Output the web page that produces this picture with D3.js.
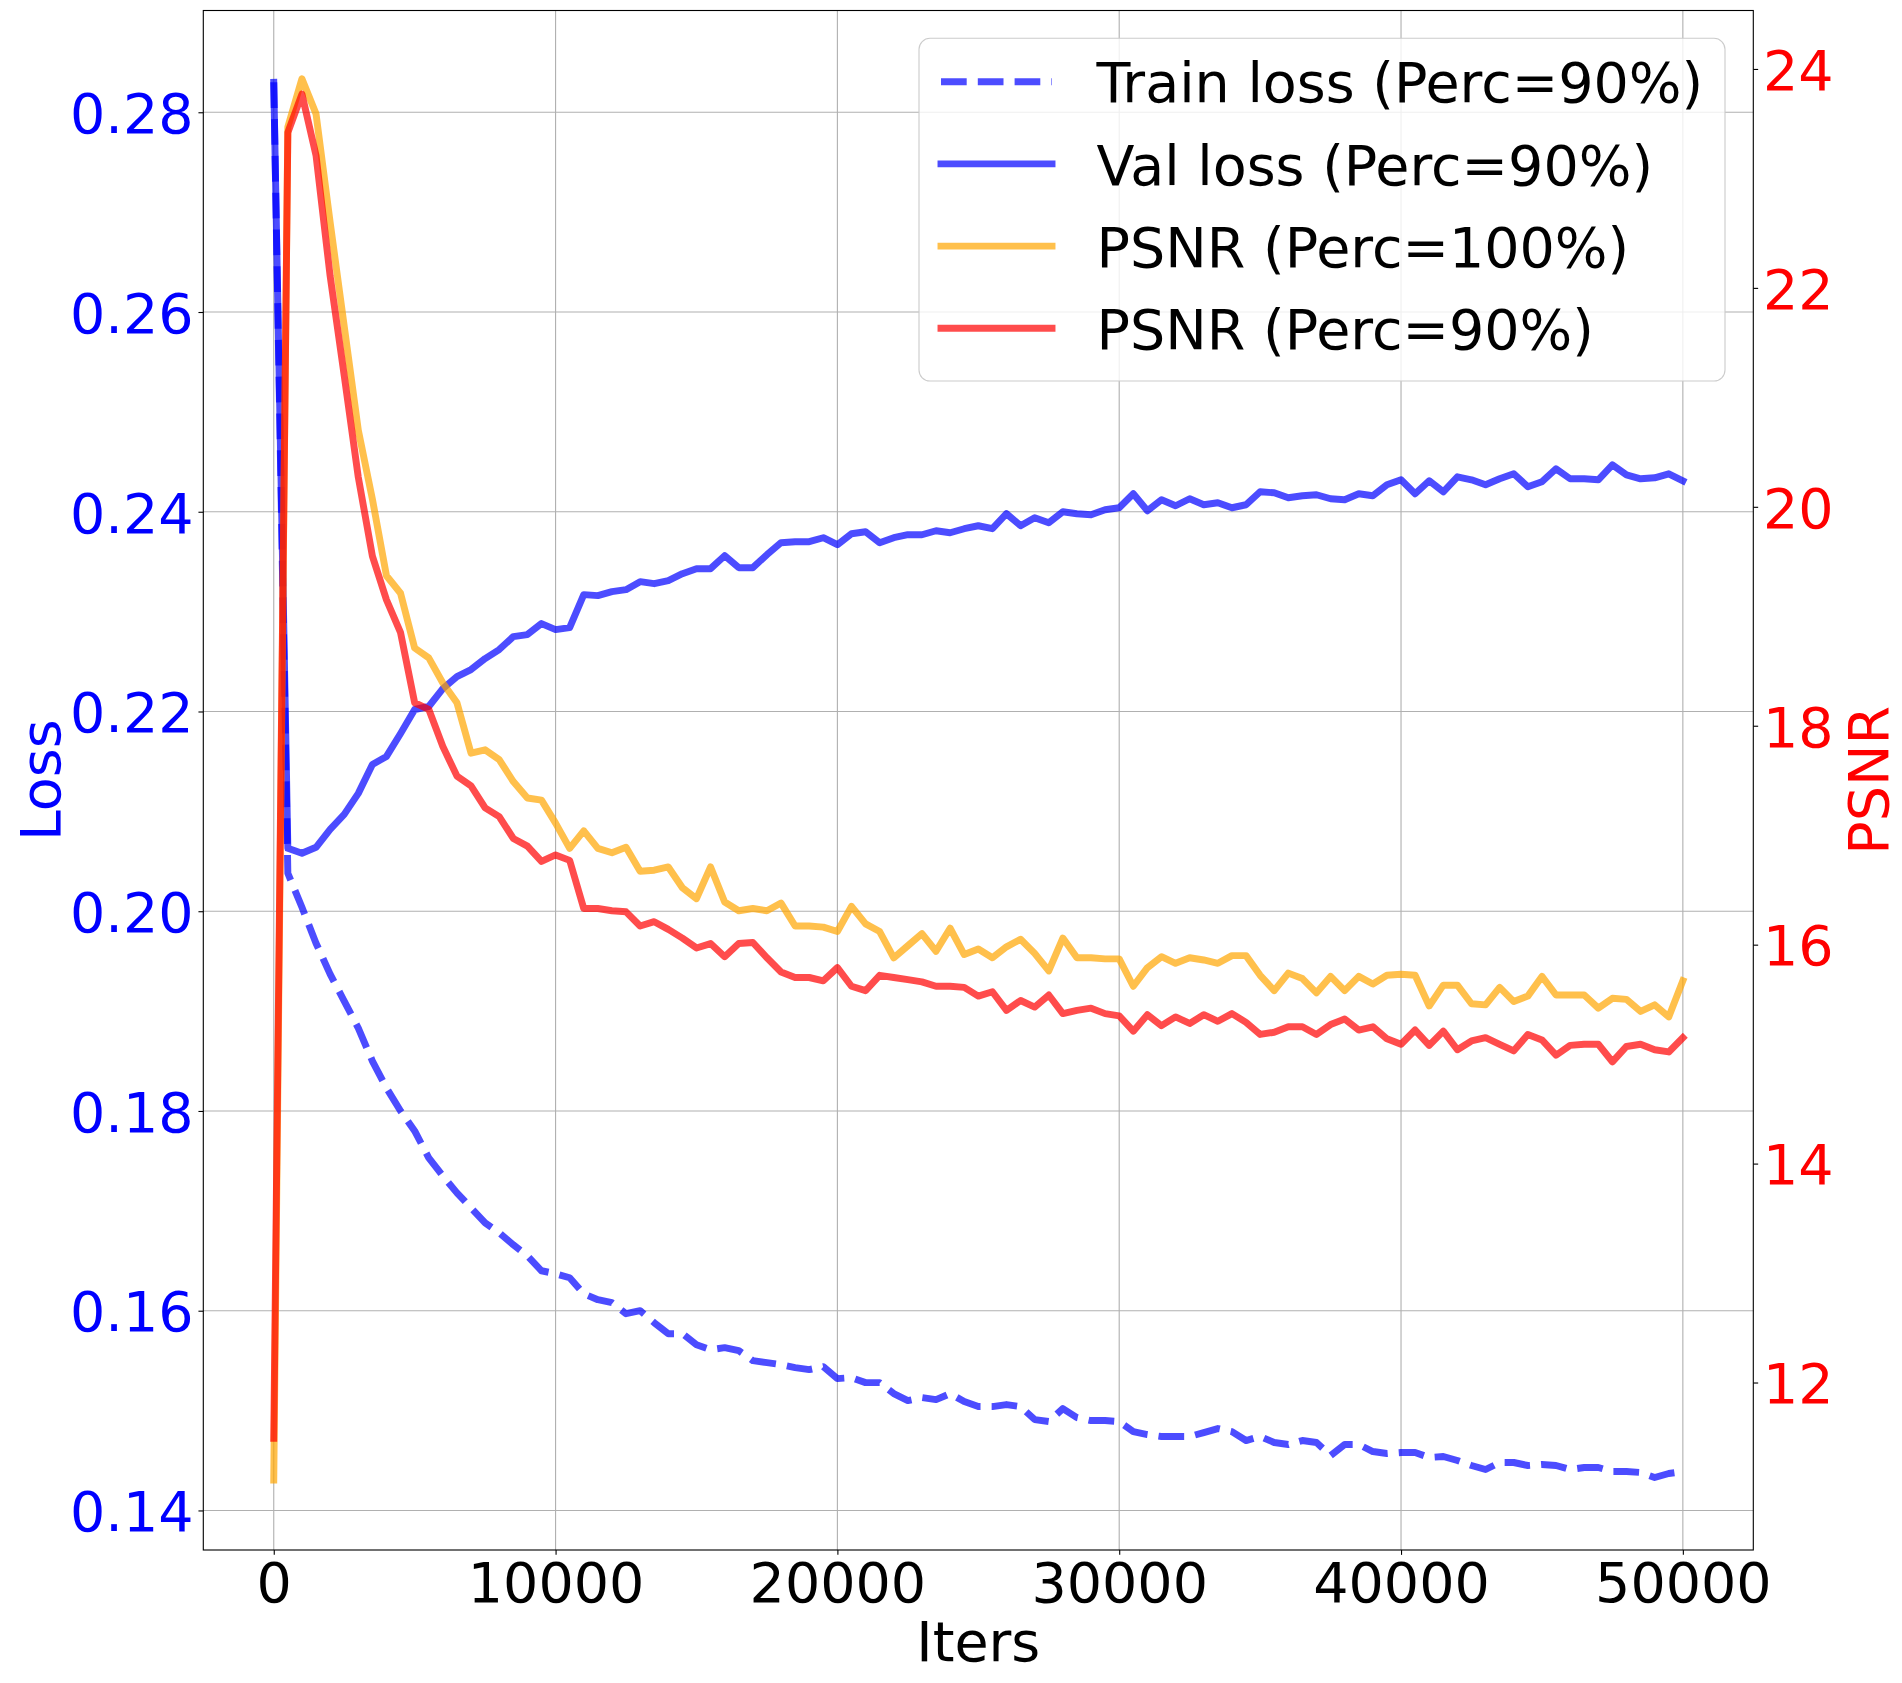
<!DOCTYPE html>
<html>
<head>
<meta charset="utf-8">
<script src="https://cdn.jsdelivr.net/npm/d3@7"></script>
<style>
  body { margin: 0; background: #fff; }
  svg { display: block; font-family: "DejaVu Sans", sans-serif; }
</style>
</head>
<body>
<svg id="chart"></svg>
<script>
// values, one point every 500 iters
const iters = [
  0, 500, 1000, 1500, 2000, 2500, 3000, 3500, 4000, 4500,
  5000, 5500, 6000, 6500, 7000, 7500, 8000, 8500, 9000, 9500,
  10000, 10500, 11000, 11500, 12000, 12500, 13000, 13500, 14000, 14500,
  15000, 15500, 16000, 16500, 17000, 17500, 18000, 18500, 19000, 19500,
  20000, 20500, 21000, 21500, 22000, 22500, 23000, 23500, 24000, 24500,
  25000, 25500, 26000, 26500, 27000, 27500, 28000, 28500, 29000, 29500,
  30000, 30500, 31000, 31500, 32000, 32500, 33000, 33500, 34000, 34500,
  35000, 35500, 36000, 36500, 37000, 37500, 38000, 38500, 39000, 39500,
  40000, 40500, 41000, 41500, 42000, 42500, 43000, 43500, 44000, 44500,
  45000, 45500, 46000, 46500, 47000, 47500, 48000, 48500, 49000, 49500,
  50000
];

const trainLoss = [
  0.2830, 0.2038, 0.2004, 0.1968, 0.1937, 0.1910, 0.1883, 0.1850, 0.1823, 0.1800,
  0.1780, 0.1753, 0.1735, 0.1718, 0.1703, 0.1688, 0.1678, 0.1666, 0.1655, 0.1640,
  0.1637, 0.1633, 0.1617, 0.1611, 0.1608, 0.1597, 0.1600, 0.1588, 0.1577, 0.1577,
  0.1566, 0.1561, 0.1563, 0.1560, 0.1550, 0.1548, 0.1546, 0.1543, 0.1541, 0.1544,
  0.1532, 0.1533, 0.1528, 0.1528, 0.1517, 0.1510, 0.1513, 0.1511, 0.1517, 0.1509,
  0.1504, 0.1504, 0.1506, 0.1504, 0.1491, 0.1489, 0.1502, 0.1493, 0.1490, 0.1490,
  0.1489, 0.1479, 0.1476, 0.1474, 0.1474, 0.1474, 0.1478, 0.1482, 0.1479, 0.1470,
  0.1474, 0.1468, 0.1466, 0.1470, 0.1468, 0.1455, 0.1466, 0.1466, 0.1459, 0.1457,
  0.1458, 0.1458, 0.1453, 0.1454, 0.1450, 0.1445, 0.1441, 0.1448, 0.1448, 0.1445,
  0.1446, 0.1445, 0.1441, 0.1443, 0.1443, 0.1439, 0.1439, 0.1438, 0.1433, 0.1437,
  0.1439
];

const valLoss = [
  0.2830, 0.2063, 0.2058, 0.2064, 0.2082, 0.2097, 0.2118, 0.2147, 0.2155, 0.2178,
  0.2202, 0.2205, 0.2223, 0.2235, 0.2242, 0.2253, 0.2262, 0.2275, 0.2277, 0.2288,
  0.2282, 0.2284, 0.2317, 0.2316, 0.2320, 0.2322, 0.2330, 0.2328, 0.2331, 0.2338,
  0.2343, 0.2343, 0.2356, 0.2344, 0.2344, 0.2357, 0.2369, 0.2370, 0.2370, 0.2374,
  0.2367, 0.2378, 0.2380, 0.2369, 0.2374, 0.2377, 0.2377, 0.2381, 0.2379, 0.2383,
  0.2386, 0.2383, 0.2398, 0.2386, 0.2394, 0.2389, 0.2400, 0.2398, 0.2397, 0.2402,
  0.2404, 0.2418, 0.2401, 0.2412, 0.2406, 0.2413, 0.2407, 0.2409, 0.2404, 0.2407,
  0.2420, 0.2419, 0.2414, 0.2416, 0.2417, 0.2413, 0.2412, 0.2418, 0.2416, 0.2427,
  0.2432, 0.2418, 0.2431, 0.2420, 0.2435, 0.2432, 0.2427, 0.2433, 0.2438, 0.2425,
  0.2430, 0.2443, 0.2433, 0.2433, 0.2432, 0.2447, 0.2437, 0.2433, 0.2434, 0.2438,
  0.2431
];

const psnr100 = [
  11.11, 23.47, 23.91, 23.59, 22.60, 21.65, 20.70, 20.07, 19.37, 19.21,
  18.71, 18.62, 18.39, 18.21, 17.75, 17.78, 17.69, 17.49, 17.34, 17.32,
  17.11, 16.88, 17.04, 16.88, 16.84, 16.89, 16.67, 16.68, 16.71, 16.52,
  16.42, 16.71, 16.39, 16.31, 16.33, 16.31, 16.38, 16.17, 16.17, 16.16,
  16.12, 16.35, 16.19, 16.12, 15.88, 15.99, 16.10, 15.94, 16.15, 15.91,
  15.96, 15.88, 15.98, 16.05, 15.92, 15.76, 16.06, 15.88, 15.88, 15.87,
  15.87, 15.62, 15.79, 15.89, 15.83, 15.88, 15.86, 15.83, 15.90, 15.90,
  15.72, 15.58, 15.74, 15.69, 15.56, 15.71, 15.58, 15.71, 15.64, 15.72,
  15.73, 15.72, 15.44, 15.63, 15.63, 15.46, 15.45, 15.61, 15.48, 15.53,
  15.71, 15.54, 15.54, 15.54, 15.42, 15.51, 15.50, 15.39, 15.45, 15.34,
  15.67
];

const psnr90 = [
  11.49, 23.42, 23.77, 23.21, 22.11, 21.20, 20.27, 19.55, 19.15, 18.85,
  18.21, 18.15, 17.81, 17.54, 17.45, 17.25, 17.17, 16.97, 16.90, 16.76,
  16.82, 16.77, 16.33, 16.33, 16.31, 16.30, 16.17, 16.21, 16.14, 16.06,
  15.97, 16.01, 15.89, 16.01, 16.02, 15.88, 15.75, 15.70, 15.70, 15.67,
  15.79, 15.62, 15.58, 15.72, 15.70, 15.68, 15.66, 15.62, 15.62, 15.61,
  15.53, 15.57, 15.40, 15.49, 15.43, 15.54, 15.37, 15.40, 15.42, 15.37,
  15.35, 15.21, 15.36, 15.26, 15.34, 15.28, 15.36, 15.30, 15.37, 15.29,
  15.18, 15.20, 15.25, 15.25, 15.18, 15.27, 15.32, 15.22, 15.25, 15.14,
  15.09, 15.22, 15.08, 15.21, 15.04, 15.12, 15.15, 15.09, 15.03, 15.18,
  15.13, 14.99, 15.08, 15.09, 15.09, 14.93, 15.07, 15.09, 15.04, 15.02,
  15.15
];

const xTicks = [0, 10000, 20000, 30000, 40000, 50000];
const lossTicks = [0.14, 0.16, 0.18, 0.20, 0.22, 0.24, 0.26, 0.28];
const psnrTicks = [12, 14, 16, 18, 20, 22, 24];

const legendLabels = [
  "Train loss (Perc=90%)",
  "Val loss (Perc=90%)",
  "PSNR (Perc=100%)",
  "PSNR (Perc=90%)"
];
const seriesColors = ["blue", "blue", "orange", "red"];

const width = 1902;
const height = 1683;
const plot = { left: 203.3, right: 1753.3, top: 10.5, bottom: 1550 };
const fontSize = 55.5;
const lw = 6.94;       // 5pt
const thin = 1.11;     // 0.8pt
const tickLen = 4.86;

const $svg = d3.select("#chart")
  .attr("width", width)
  .attr("height", height)
  .attr("viewBox", [0, 0, width, height]);

$svg.append("rect")
  .attr("width", width).attr("height", height).attr("fill", "#fff");

const x = d3.scaleLinear().domain([-2500, 52500]).range([plot.left, plot.right]);
const yLoss = d3.scaleLinear().domain([0.13604, 0.29019]).range([plot.bottom, plot.top]);
const yPsnr = d3.scaleLinear().domain([10.470, 24.534]).range([plot.bottom, plot.top]);

// grid (loss axis only)
const grid = $svg.append("g").attr("stroke", "#b0b0b0").attr("stroke-width", thin);
grid.selectAll(".gx").data(xTicks).enter().append("line")
  .attr("x1", d => x(d)).attr("x2", d => x(d))
  .attr("y1", plot.top).attr("y2", plot.bottom);
grid.selectAll(".gy").data(lossTicks).enter().append("line")
  .attr("x1", plot.left).attr("x2", plot.right)
  .attr("y1", d => yLoss(d)).attr("y2", d => yLoss(d));

const lossLine = d3.line().x((d, i) => x(iters[i])).y(d => yLoss(d));
const psnrLine = d3.line().x((d, i) => x(iters[i])).y(d => yPsnr(d));

const lines = $svg.append("g")
  .attr("fill", "none")
  .attr("stroke-width", lw)
  .attr("stroke-linejoin", "round")
  .attr("stroke-opacity", 0.7);

lines.append("path")
  .attr("d", lossLine(trainLoss))
  .attr("stroke", seriesColors[0])
  .attr("stroke-dasharray", "25.7 11.1")
  .attr("stroke-linecap", "butt");
lines.append("path")
  .attr("d", lossLine(valLoss))
  .attr("stroke", seriesColors[1])
  .attr("stroke-linecap", "square");
lines.append("path")
  .attr("d", psnrLine(psnr100))
  .attr("stroke", seriesColors[2])
  .attr("stroke-linecap", "square");
lines.append("path")
  .attr("d", psnrLine(psnr90))
  .attr("stroke", seriesColors[3])
  .attr("stroke-linecap", "square");

// spines
$svg.append("rect")
  .attr("x", plot.left).attr("y", plot.top)
  .attr("width", plot.right - plot.left).attr("height", plot.bottom - plot.top)
  .attr("fill", "none").attr("stroke", "#000").attr("stroke-width", thin);

const styleAxis = (g, color, dy) => {
  g.select(".domain").remove();
  g.selectAll(".tick line").attr("stroke", "#000").attr("stroke-width", thin);
  g.selectAll(".tick text")
    .attr("fill", color)
    .attr("font-size", fontSize)
    .attr("font-family", "DejaVu Sans")
    .attr("dy", dy);
};

$svg.append("g")
  .attr("transform", `translate(0,${plot.bottom})`)
  .call(d3.axisBottom(x).tickValues(xTicks).tickFormat(d3.format("d"))
    .tickSize(tickLen).tickPadding(tickLen))
  .call(g => styleAxis(g, "#000", "0.76em"));

$svg.append("g")
  .attr("transform", `translate(${plot.left},0)`)
  .call(d3.axisLeft(yLoss).tickValues(lossTicks).tickFormat(d3.format(".2f"))
    .tickSize(tickLen).tickPadding(tickLen))
  .call(g => styleAxis(g, "blue", "0.365em"));

$svg.append("g")
  .attr("transform", `translate(${plot.right},0)`)
  .call(d3.axisRight(yPsnr).tickValues(psnrTicks).tickFormat(d3.format("d"))
    .tickSize(tickLen).tickPadding(tickLen))
  .call(g => styleAxis(g, "red", "0.365em"));

// axis labels
$svg.append("text")
  .attr("x", (plot.left + plot.right) / 2).attr("y", 1661)
  .attr("text-anchor", "middle").attr("font-size", fontSize)
  .text("Iters");

$svg.append("text")
  .attr("transform", `translate(60,${(plot.top + plot.bottom) / 2}) rotate(-90)`)
  .attr("text-anchor", "middle").attr("font-size", fontSize).attr("fill", "blue")
  .text("Loss");

$svg.append("text")
  .attr("transform", `translate(1888,${(plot.top + plot.bottom) / 2}) rotate(-90)`)
  .attr("text-anchor", "middle").attr("font-size", fontSize).attr("fill", "red")
  .text("PSNR");

// legend
const legend = $svg.append("g");
legend.append("rect")
  .attr("x", 919).attr("y", 38.3)
  .attr("width", 806).attr("height", 342.7)
  .attr("rx", 11).attr("ry", 11)
  .attr("fill", "#fff").attr("fill-opacity", 0.8)
  .attr("stroke", "#cccccc").attr("stroke-width", thin);

const rowY = i => 81.7 + i * 82.2;
legend.selectAll(".handle").data(legendLabels).enter().append("line")
  .attr("x1", 941).attr("x2", 1052)
  .attr("y1", (d, i) => rowY(i)).attr("y2", (d, i) => rowY(i))
  .attr("stroke", (d, i) => seriesColors[i])
  .attr("stroke-opacity", 0.7)
  .attr("stroke-width", lw)
  .attr("stroke-linecap", (d, i) => (i === 0 ? "butt" : "square"))
  .attr("stroke-dasharray", (d, i) => (i === 0 ? "25.7 11.1" : null));

legend.selectAll(".label").data(legendLabels).enter().append("text")
  .attr("x", 1096.6)
  .attr("y", (d, i) => rowY(i) + 20.6)
  .attr("font-size", fontSize)
  .attr("fill", "#000")
  .text(d => d);
</script>
</body>
</html>
